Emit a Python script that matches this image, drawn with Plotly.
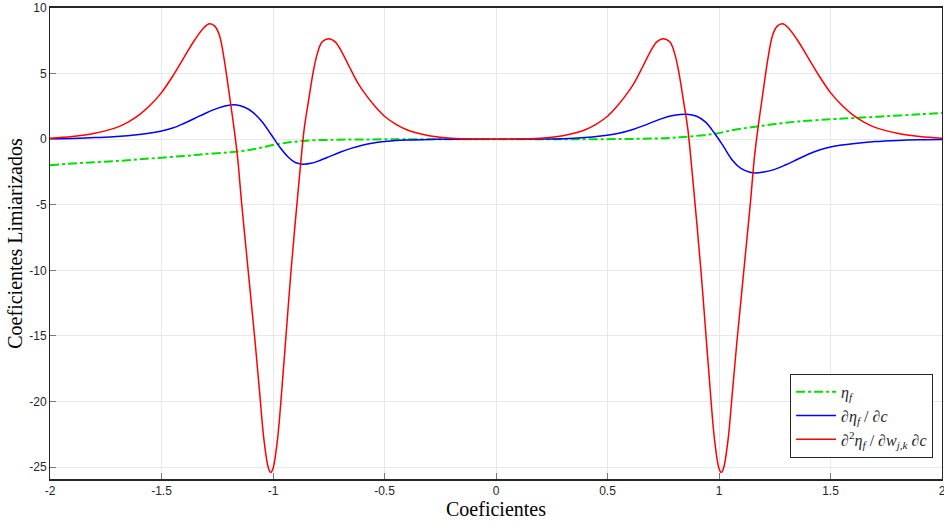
import plotly.graph_objects as go

# ---- data ----
red_x = [-2.0, -1.9, -1.8, -1.7, -1.65, -1.6, -1.55, -1.5, -1.45, -1.4, -1.35, -1.31, -1.285,
         -1.26, -1.24, -1.22, -1.2, -1.18, -1.16, -1.14, -1.12, -1.1, -1.08, -1.06, -1.04,
         -1.02, -1.01, -1.0, -0.98, -0.96, -0.94, -0.92, -0.9, -0.88, -0.86, -0.84, -0.82,
         -0.8, -0.78, -0.75, -0.72, -0.69, -0.66, -0.62, -0.58, -0.54, -0.5, -0.45, -0.4,
         -0.35, -0.3, -0.25, -0.2, -0.1, 0.0,
         0.1, 0.2, 0.25, 0.3, 0.35, 0.4, 0.45, 0.5, 0.54, 0.58, 0.62, 0.66, 0.69, 0.72, 0.75,
         0.78, 0.8, 0.82, 0.84, 0.86, 0.88, 0.9, 0.92, 0.94, 0.96, 0.98, 1.0, 1.01, 1.02, 1.04,
         1.06, 1.08, 1.1, 1.12, 1.14, 1.16, 1.18, 1.2, 1.22, 1.24, 1.26, 1.285, 1.31, 1.35,
         1.4, 1.45, 1.5, 1.55, 1.6, 1.65, 1.7, 1.8, 1.9, 2.0]
red_y = [0.08, 0.2, 0.45, 0.9, 1.3, 1.85, 2.6, 3.55, 4.8, 6.2, 7.6, 8.5, 8.8,
         8.6, 7.9, 6.2, 3.9, 1.5, -1.2, -5.0, -8.5, -12.0, -15.5, -19.3, -23.0,
         -25.1, -25.4, -25.1, -22.9, -19.0, -14.6, -10.2, -6.3, -2.6, 0.8, 3.0, 5.1,
         6.6, 7.4, 7.66, 7.4, 6.6, 5.6, 4.3, 3.3, 2.45, 1.75, 1.15, 0.72,
         0.45, 0.26, 0.14, 0.07, 0.01, 0.0,
         0.01, 0.07, 0.14, 0.26, 0.45, 0.72, 1.15, 1.75, 2.45, 3.3, 4.3, 5.6, 6.6, 7.4, 7.66,
         7.4, 6.6, 5.1, 3.0, 0.8, -2.6, -6.3, -10.2, -14.6, -19.0, -22.9, -25.1, -25.4, -25.1, -23.0,
         -19.3, -15.5, -12.0, -8.5, -5.0, -1.2, 1.5, 3.9, 6.2, 7.9, 8.6, 8.8, 8.5, 7.6,
         6.2, 4.8, 3.55, 2.6, 1.85, 1.3, 0.9, 0.45, 0.2, 0.08]

blue_x = [-2.0, -1.9, -1.8, -1.7, -1.6, -1.55, -1.5, -1.45, -1.4, -1.35, -1.3, -1.25, -1.21, -1.17,
          -1.13, -1.09, -1.05, -1.01, -0.97, -0.93, -0.9, -0.867, -0.83, -0.79, -0.75, -0.7,
          -0.65, -0.6, -0.55, -0.5, -0.45, -0.4, -0.3, -0.2, 0.0,
          0.2, 0.3, 0.4, 0.46, 0.55, 0.61, 0.68, 0.74, 0.8, 0.856, 0.9, 0.94, 0.98, 1.02, 1.06,
          1.1, 1.135, 1.162, 1.2, 1.25, 1.3, 1.35, 1.4, 1.45, 1.5, 1.55, 1.6, 1.7, 1.8, 1.9, 2.0]
blue_y = [0.02, 0.06, 0.12, 0.2, 0.36, 0.47, 0.62, 0.85, 1.2, 1.6, 2.0, 2.35, 2.55, 2.62,
          2.45, 2.05, 1.35, 0.4, -0.6, -1.4, -1.78, -1.9, -1.84, -1.62, -1.35, -1.0,
          -0.7, -0.46, -0.29, -0.18, -0.1, -0.06, -0.02, 0.0, 0.0,
          0.01, 0.03, 0.12, 0.22, 0.45, 0.72, 1.15, 1.55, 1.82, 1.9, 1.75, 1.3, 0.45, -0.55, -1.6,
          -2.25, -2.5, -2.57, -2.5, -2.3, -1.95, -1.55, -1.15, -0.82, -0.6, -0.45, -0.34, -0.18, -0.09, -0.04, -0.02]

green_x = [-2.0, -1.85, -1.7, -1.55, -1.4, -1.3, -1.2, -1.15, -1.1, -1.05, -1.0, -0.95, -0.9,
           -0.85, -0.75, -0.6, -0.4, 0.0, 0.4, 0.6, 0.76, 0.864, 0.983, 1.07, 1.162, 1.25,
           1.356, 1.5, 1.609, 1.75, 1.9, 2.0]
green_y = [-1.98, -1.8, -1.66, -1.47, -1.28, -1.13, -1.0, -0.92, -0.8, -0.63, -0.45, -0.3, -0.19,
           -0.11, -0.05, -0.02, 0.0, 0.0, 0.0, 0.02, 0.08, 0.2, 0.42, 0.72, 0.95, 1.15,
           1.35, 1.52, 1.62, 1.75, 1.9, 2.0]

x_ticks = [-2, -1.5, -1, -0.5, 0, 0.5, 1, 1.5, 2]
x_tick_labels = ["-2", "-1.5", "-1", "-0.5", "0", "0.5", "1", "1.5", "2"]
y_ticks = [-25, -20, -15, -10, -5, 0, 5, 10]
y_tick_labels = ["-25", "-20", "-15", "-10", "-5", "0", "5", "10"]

names = ["<i>η<sub>f</sub></i>",
         "∂<i>η<sub>f</sub></i> / ∂<i>c</i>",
         "∂<sup>2</sup><i>η<sub>f</sub></i> / ∂<i>w<sub>j,k</sub></i> ∂<i>c</i>"]

fig = go.Figure()
fig.add_trace(go.Scatter(x=green_x, y=green_y, mode="lines", name=names[0],
                         line=dict(color="#00e000", width=2, dash="dashdot", shape="spline", smoothing=1.0)))
fig.add_trace(go.Scatter(x=blue_x, y=blue_y, mode="lines", name=names[1],
                         line=dict(color="#0000ff", width=1.5, shape="spline", smoothing=1.0)))
fig.add_trace(go.Scatter(x=red_x, y=red_y, mode="lines", name=names[2],
                         line=dict(color="#ff0000", width=1.5, shape="spline", smoothing=1.0)))

axis_common = dict(showgrid=True, gridcolor="#e8e8e8", gridwidth=1, zeroline=False,
                   showline=True, linecolor="#262626", mirror=True, ticks="inside",
                   ticklen=6, tickcolor="#777777", automargin=False,
                   ticklabeloverflow="allow",
                   tickfont=dict(family="Liberation Sans, Arial", size=12, color="#262626"))

fig.update_layout(
    width=944, height=524,
    margin=dict(l=50, r=2, t=8, b=45, autoexpand=False),
    paper_bgcolor="white", plot_bgcolor="white",
    xaxis=dict(range=[-2, 2], tickvals=x_ticks, ticktext=x_tick_labels, linewidth=2,
               title=dict(text="Coeficientes", standoff=4,
                          font=dict(family="Liberation Serif, Times New Roman", size=20, color="black")),
               **axis_common),
    yaxis=dict(range=[-25.9, 10], tickvals=y_ticks, ticktext=y_tick_labels, linewidth=1,
               title=dict(text="Coeficientes Limiarizados", standoff=1,
                          font=dict(family="Liberation Serif, Times New Roman", size=20, color="black")),
               **axis_common),
    legend=dict(x=0.99, y=0.045, xanchor="right", yanchor="bottom",
                bgcolor="white", bordercolor="#262626", borderwidth=1,
                font=dict(family="Liberation Serif, Times New Roman", size=16, color="#262626"),
                tracegroupgap=0, itemwidth=40),
    showlegend=True,
)

fig.write_html("out.html", config={"displayModeBar": False},
               post_script="document.body.style.margin='0';document.body.style.overflow='hidden';")
